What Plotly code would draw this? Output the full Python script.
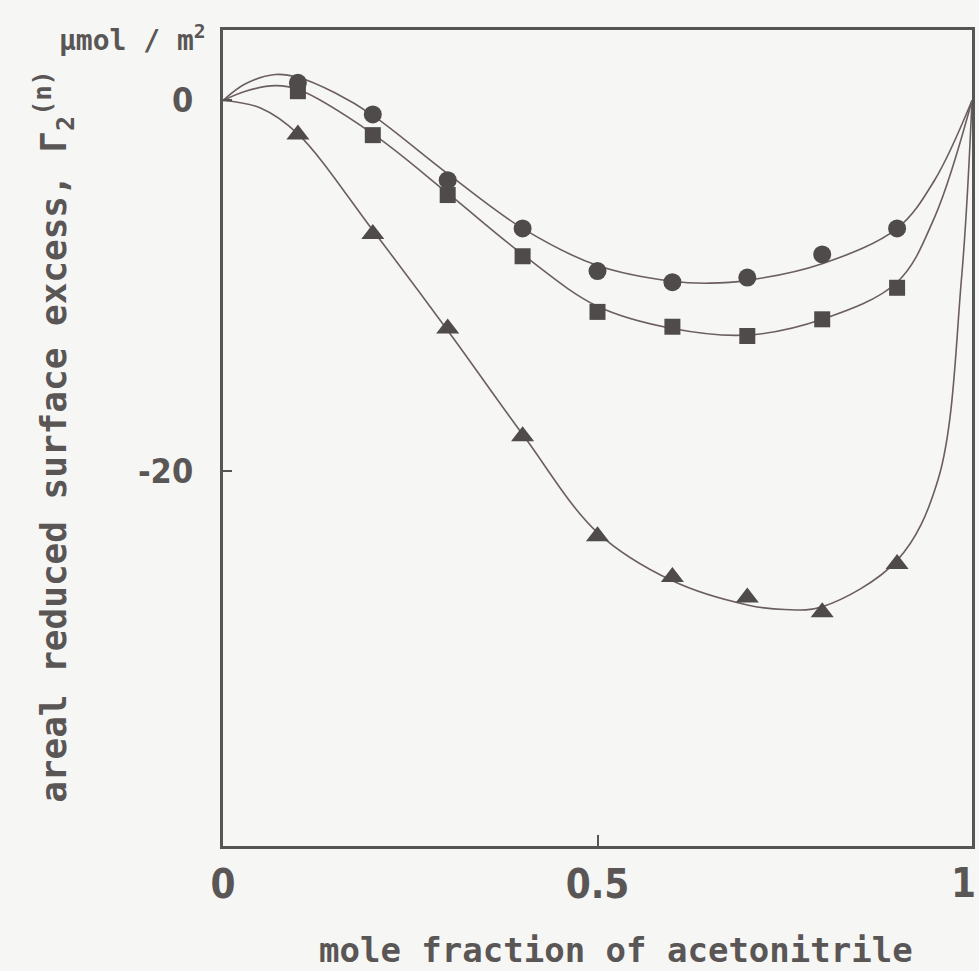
import plotly.graph_objects as go

# measured data (mole fraction of acetonitrile)
x_data = [0.1, 0.2, 0.3, 0.4, 0.5, 0.6, 0.7, 0.8, 0.9]
y_circle = [0.95, -0.75, -4.3, -6.9, -9.2, -9.8, -9.55, -8.3, -6.9]
y_square = [0.5, -1.87, -5.1, -8.4, -11.4, -12.2, -12.7, -11.8, -10.1]
y_triangle = [-1.83, -7.2, -12.3, -18.1, -23.5, -25.7, -26.8, -27.6, -25.0]

# smooth fitted curves
xc_circle = [0.0, 0.03, 0.07, 0.1, 0.15, 0.2, 0.3, 0.4, 0.5, 0.6, 0.65, 0.7, 0.8, 0.9, 0.95, 1.0]
yc_circle = [0.0, 0.9, 1.4, 1.25, 0.4, -0.8, -3.95, -6.9, -8.9, -9.75, -9.85, -9.7, -8.8, -6.9, -4.3, 0.0]
xc_square = [0.0, 0.03, 0.07, 0.1, 0.2, 0.3, 0.4, 0.5, 0.6, 0.7, 0.8, 0.9, 0.95, 1.0]
yc_square = [0.0, 0.5, 0.8, 0.6, -1.8, -5.0, -8.3, -11.1, -12.3, -12.65, -11.8, -9.8, -6.3, 0.0]
xc_triangle = [0.0, 0.05, 0.1, 0.2, 0.3, 0.4, 0.5, 0.6, 0.7, 0.75, 0.8, 0.9, 0.955, 0.986, 1.0]
yc_triangle = [0.0, -0.4, -1.8, -7.0, -12.4, -18.0, -23.3, -25.9, -27.2, -27.45, -27.3, -24.8, -20.4, -9.6, 0.0]

x_ticks = [0, 0.5, 1]
x_ticklabels = ["0", "0.5", "1"]
y_ticks = [0, -20]
y_ticklabels = ["0", "-20"]

line_col = "#6b5e5e"
mark_col = "#4f4b4b"
text_col = "#5a5656"
font_mono = "DejaVu Sans Mono"
tick_font = dict(family="DejaVu Sans Condensed", size=40, color=text_col, weight="bold")

fig = go.Figure()
for xc, yc in [(xc_circle, yc_circle), (xc_square, yc_square), (xc_triangle, yc_triangle)]:
    fig.add_trace(go.Scatter(x=xc, y=yc, mode="lines",
                             line=dict(color=line_col, width=1.6, shape="spline", smoothing=1.0),
                             hoverinfo="skip", showlegend=False))

for yd, sym, sz in [(y_circle, "circle", 18), (y_square, "square", 16), (y_triangle, "triangle-up", 20)]:
    fig.add_trace(go.Scatter(x=x_data, y=yd, mode="markers",
                             marker=dict(symbol=sym, size=sz, color=mark_col, line=dict(width=0)),
                             showlegend=False))

# last x tick label sits at the very edge of the page; drawn as an annotation kept inside
axis_ticktext = x_ticklabels[:-1] + [""]

fig.update_layout(
    width=979, height=971,
    margin=dict(l=223, r=7, t=30, b=125, autoexpand=False),
    paper_bgcolor="#f6f6f4", plot_bgcolor="#f6f6f4",
    font=dict(family=font_mono, color=text_col),
    xaxis=dict(range=[0, 1], tickvals=x_ticks, ticktext=axis_ticktext, automargin=False,
               ticks="inside", ticklen=11, tickwidth=1.5, tickcolor="#555",
               showgrid=False, zeroline=False, showline=True, linewidth=3, linecolor="#555",
               mirror=True, ticklabelstandoff=1, ticklabeloverflow="allow",
               tickfont=tick_font),
    yaxis=dict(range=[-40.2, 3.8], tickvals=y_ticks, ticktext=y_ticklabels, automargin=False,
               ticks="inside", ticklen=9, tickwidth=1.5, tickcolor="#555",
               showgrid=False, zeroline=False, showline=True, linewidth=3, linecolor="#555",
               mirror=True, ticklabelstandoff=20, ticklabeloverflow="allow",
               tickfont=dict(family="DejaVu Sans Condensed", size=34, color=text_col, weight="bold")),
)

fig.add_annotation(text=x_ticklabels[-1], xref="x", yref="paper", x=x_ticks[-1], y=-0.0455,
                   xanchor="right", yanchor="middle", xshift=5, borderpad=0, showarrow=False,
                   font=tick_font)
fig.add_annotation(text="mole fraction of acetonitrile", xref="paper", yref="paper",
                   x=0.525, y=-0.128, xanchor="center", yanchor="middle", showarrow=False,
                   font=dict(family=font_mono, size=34, color=text_col, weight="bold"))
fig.add_annotation(text="areal reduced surface excess, Γ<sub>2</sub><sup>(n)</sup>",
                   xref="paper", yref="paper", x=-0.225, y=0.502, xanchor="center", yanchor="middle",
                   textangle=-90, showarrow=False,
                   font=dict(family=font_mono, size=36, color=text_col, weight="bold"))
fig.add_annotation(text="μmol / m<sup>2</sup>", xref="paper", yref="paper",
                   x=-0.02, y=0.99, xanchor="right", yanchor="middle", showarrow=False,
                   font=dict(family=font_mono, size=28, color=text_col, weight="bold"))

fig.write_html("out.html")
